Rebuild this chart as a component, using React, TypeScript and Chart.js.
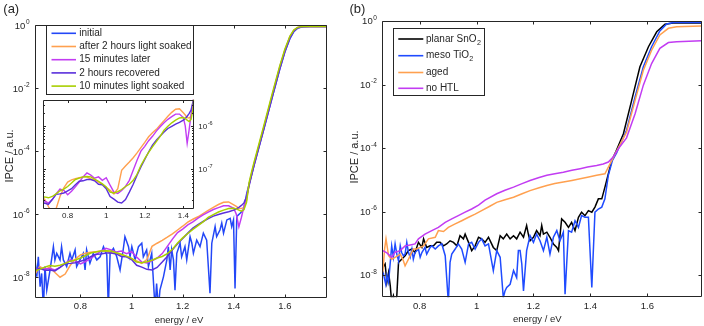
import React, { useEffect, useRef } from 'react';
import { Chart, registerables } from 'chart.js';

Chart.register(...registerables);

const FONT = '"Liberation Sans", Arial, Helvetica, sans-serif';
const INK = '#262626';

// ---------------- Panel (a) data (values stored as log10 of IPCE) ----------------
const xTickValuesA = [0.8, 1.0, 1.2, 1.4, 1.6];
const xTickLabelsA = ['0.8', '1', '1.2', '1.4', '1.6'];
const yTickExpsMain = [0, -2, -4, -6, -8];
const xTickValuesInset = [0.8, 1.0, 1.2, 1.4];
const xTickLabelsInset = ['0.8', '1', '1.2', '1.4'];
const yTickExpsInset = [-6, -7];

const legendA = ['initial', 'after 2 hours light soaked', '15 minutes later', '2 hours recovered', '10 minutes light soaked'];

const energyA = [
  0.62, 0.64, 0.66, 0.68, 0.70, 0.72, 0.74, 0.76, 0.78, 0.80,
  0.82, 0.84, 0.86, 0.88, 0.90, 0.92, 0.94, 0.96, 0.98, 1.00,
  1.02, 1.04, 1.06, 1.08, 1.10, 1.12, 1.14, 1.16, 1.18, 1.20,
  1.22, 1.24, 1.26, 1.28, 1.30, 1.32, 1.34, 1.36, 1.38, 1.40,
  1.41, 1.42, 1.43, 1.44, 1.45,
  1.46, 1.47, 1.48, 1.49, 1.52, 1.55, 1.58, 1.60, 1.62, 1.635, 1.65, 1.67, 1.70, 1.765,
];

const afterSoakLog = [
  -7.93, -7.66, -7.75, -7.68, -7.85, -8.00, -7.90, -7.62, -7.42, -7.29,
  -7.24, -7.21, -7.19, -7.17, -7.17, -7.22, -7.24, -7.29, -7.34, -7.41,
  -7.48, -7.56, -7.44, -7.02, -6.92, -6.83, -6.73, -6.62, -6.50, -6.38,
  -6.25, -6.16, -6.08, -5.98, -5.88, -5.78, -5.69, -5.62, -5.61, -5.70,
  -5.75, -5.81, -5.82, -5.78, -5.56,
  -5.05, -4.70, -4.38, -4.08, -3.17, -2.24, -1.33, -0.79, -0.36, -0.16, -0.07, -0.04, -0.035, -0.035,
];

const later15Log = [
  -7.75, -7.72, -7.74, -7.72, -7.77, -7.69, -7.56, -7.45, -7.48, -7.58,
  -7.50, -7.40, -7.29, -7.17, -7.08, -7.13, -7.20, -7.17, -7.25, -7.19,
  -7.36, -7.52, -7.55, -7.48, -7.39, -7.25, -7.02, -6.79, -6.58, -6.47,
  -6.34, -6.24, -6.12, -6.02, -5.93, -5.85, -5.79, -5.73, -5.73, -5.81,
  -6.00, -6.40, -6.10, -5.75, -5.45,
  -5.05, -4.72, -4.40, -4.10, -3.18, -2.25, -1.34, -0.80, -0.37, -0.17, -0.075, -0.04, -0.035, -0.035,
];

const recoveredLog = [
  -7.78, -7.72, -7.78, -7.77, -7.80, -7.69, -7.57, -7.56, -7.54, -7.49,
  -7.44, -7.35, -7.27, -7.26, -7.23, -7.23, -7.26, -7.34, -7.35, -7.44,
  -7.62, -7.68, -7.75, -7.77, -7.69, -7.52, -7.34, -7.13, -6.94, -6.77,
  -6.60, -6.44, -6.33, -6.23, -6.14, -6.06, -6.01, -5.96, -5.92, -5.87,
  -5.83, -5.78, -5.72, -5.64, -5.45,
  -5.10, -4.76, -4.44, -4.14, -3.23, -2.30, -1.39, -0.84, -0.40, -0.19, -0.085, -0.045, -0.035, -0.035,
];

const soak10Log = [
  -7.80, -7.75, -7.68, -7.63, -7.65, -7.62, -7.56, -7.49, -7.45, -7.39,
  -7.31, -7.23, -7.20, -7.17, -7.16, -7.17, -7.22, -7.27, -7.33, -7.40,
  -7.52, -7.54, -7.51, -7.46, -7.39, -7.34, -7.25, -7.11, -6.91, -6.75,
  -6.61, -6.48, -6.36, -6.24, -6.10, -6.01, -5.93, -5.87, -5.82, -5.81,
  -5.83, -5.87, -5.90, -5.85, -5.62,
  -5.00, -4.65, -4.33, -4.03, -3.12, -2.19, -1.29, -0.76, -0.34, -0.15, -0.065, -0.04, -0.035, -0.035,
];

const initialE = [
  0.622, 0.629, 0.635, 0.642, 0.648, 0.655, 0.661, 0.668, 0.681, 0.694,
  0.700, 0.707, 0.720, 0.726, 0.733, 0.746, 0.759, 0.766, 0.779, 0.785,
  0.798, 0.811, 0.818, 0.824, 0.837, 0.850, 0.864, 0.877, 0.890, 0.903,
  0.909, 0.916, 0.929, 0.942, 0.955, 0.968, 0.974, 0.988, 0.994, 1.001,
  1.014, 1.027, 1.040, 1.046, 1.059, 1.066, 1.079, 1.092, 1.098, 1.105,
  1.111, 1.125, 1.138, 1.144, 1.151, 1.157, 1.164, 1.170, 1.177, 1.190,
  1.196, 1.209, 1.216, 1.229, 1.236, 1.242, 1.255, 1.268, 1.281, 1.294,
  1.307, 1.314, 1.327, 1.333, 1.346, 1.353, 1.360, 1.373, 1.386, 1.392,
  1.399, 1.405, 1.412, 1.425, 1.438, 1.451, 1.46, 1.47, 1.48, 1.49,
  1.52, 1.55, 1.58, 1.60, 1.62, 1.635, 1.65, 1.67, 1.70, 1.765,
];
const initialLog = [
  -7.45, -7.98, -7.35, -8.30, -7.88, -9.0, -7.66, -8.41, -7.77, -7.03,
  -7.45, -7.24, -7.45, -7.03, -7.45, -7.66, -7.24, -7.45, -7.13, -7.66,
  -7.45, -7.24, -7.77, -7.13, -7.56, -7.24, -7.45, -7.35, -7.03, -7.29,
  -9.0, -7.24, -7.08, -7.35, -7.77, -7.08, -6.71, -7.03, -7.35, -7.03,
  -7.45, -7.03, -6.92, -7.35, -7.13, -7.66, -7.24, -9.0, -8.20, -9.0,
  -8.41, -7.98, -7.45, -7.03, -7.77, -7.13, -7.45, -8.41, -7.24, -6.92,
  -7.35, -7.03, -7.45, -6.71, -6.92, -7.24, -6.82, -7.03, -6.60, -6.82,
  -8.51, -6.92, -6.39, -6.71, -6.50, -6.28, -6.60, -6.18, -6.13, -6.39,
  -6.18, -8.36, -6.07, -5.97, -5.86, -5.33, -5.05, -4.75, -4.42, -4.12,
  -3.22, -2.30, -1.40, -0.85, -0.42, -0.20, -0.09, -0.045, -0.035, -0.035,
];

// ---------------- Panel (b) data (log10 of IPCE) ----------------
const xTickValuesB = [0.8, 1.0, 1.2, 1.4, 1.6];
const xTickLabelsB = ['0.8', '1', '1.2', '1.4', '1.6'];

const planarE = [
  0.671, 0.679, 0.685, 0.691, 0.697, 0.702, 0.708, 0.714, 0.720, 0.726,
  0.737, 0.749, 0.761, 0.773, 0.784, 0.796, 0.808, 0.814, 0.825, 0.837,
  0.849, 0.860, 0.872, 0.884, 0.895, 0.907, 0.919, 0.931, 0.942, 0.954,
  0.960, 0.972, 0.983, 0.995, 1.007, 1.018, 1.030, 1.042, 1.059, 1.071,
  1.083, 1.094, 1.106, 1.118, 1.130, 1.141, 1.153, 1.165, 1.176, 1.182,
  1.188, 1.200, 1.211, 1.223, 1.229, 1.235, 1.247, 1.258, 1.270, 1.282,
  1.288, 1.299, 1.311, 1.323, 1.334, 1.346, 1.358, 1.369, 1.381, 1.393,
  1.405, 1.416, 1.428, 1.440, 1.452, 1.462, 1.475, 1.490, 1.516, 1.545,
  1.574, 1.604, 1.633, 1.662, 1.691, 1.740, 1.790,
];
const planarLog = [
  -7.76, -7.65, -8.23, -7.92, -8.34, -8.87, -8.65, -8.87, -8.65, -7.60,
  -7.50, -7.39, -7.23, -7.18, -7.29, -6.97, -7.13, -6.86, -7.13, -7.08,
  -7.08, -6.97, -6.97, -7.08, -7.02, -6.92, -6.97, -7.08, -6.76, -6.86,
  -6.71, -6.97, -7.23, -7.08, -6.81, -6.86, -6.97, -6.81, -7.13, -7.23,
  -6.76, -6.86, -6.71, -6.86, -6.76, -6.86, -6.65, -6.81, -6.44, -6.71,
  -6.92, -6.81, -6.60, -6.76, -6.44, -6.71, -6.65, -6.81, -7.02, -7.13,
  -7.23, -6.23, -6.34, -6.50, -6.34, -6.60, -6.18, -6.02, -6.13, -5.97,
  -6.02, -5.86, -5.60, -5.60, -5.20, -4.85, -4.39, -4.10, -3.55, -2.50,
  -1.44, -0.81, -0.34, -0.10, -0.06, -0.06, -0.06,
];

const mesoE = [
  0.671, 0.677, 0.681, 0.685, 0.691, 0.697, 0.702, 0.708, 0.714, 0.720,
  0.726, 0.732, 0.737, 0.743, 0.749, 0.755, 0.761, 0.767, 0.773, 0.778,
  0.784, 0.796, 0.802, 0.808, 0.819, 0.825, 0.837, 0.843, 0.855, 0.866,
  0.878, 0.890, 0.901, 0.907, 0.913, 0.925, 0.936, 0.948, 0.960, 0.972,
  0.983, 0.995, 1.007, 1.018, 1.030, 1.042, 1.059, 1.071, 1.083, 1.094,
  1.100, 1.106, 1.118, 1.130, 1.141, 1.147, 1.153, 1.159, 1.165, 1.176,
  1.188, 1.200, 1.211, 1.223, 1.235, 1.247, 1.258, 1.270, 1.282, 1.293,
  1.305, 1.311, 1.323, 1.334, 1.346, 1.358, 1.369, 1.381, 1.393, 1.405,
  1.416, 1.428, 1.440, 1.451, 1.463, 1.477, 1.492, 1.527, 1.557, 1.586,
  1.615, 1.644, 1.668, 1.697, 1.790,
];
const mesoLog = [
  -7.87, -8.13, -8.29, -8.02, -8.23, -7.60, -7.08, -7.44, -7.02, -7.34,
  -7.55, -7.08, -7.29, -7.39, -7.34, -6.97, -7.29, -7.44, -7.18, -7.50,
  -7.29, -7.18, -7.44, -7.29, -7.13, -7.34, -7.13, -7.08, -7.18, -7.08,
  -7.02, -7.39, -8.87, -7.60, -7.34, -7.18, -7.02, -7.18, -7.60, -7.02,
  -6.97, -7.18, -6.97, -6.86, -7.08, -7.02, -7.86, -7.23, -7.44, -8.71,
  -8.50, -8.39, -8.29, -7.86, -8.08, -7.23, -7.23, -7.65, -8.50, -7.23,
  -6.76, -6.97, -6.71, -6.92, -7.23, -6.81, -7.34, -6.81, -6.60, -6.92,
  -6.65, -8.60, -6.60, -6.65, -6.29, -6.50, -6.13, -6.18, -6.18, -8.39,
  -6.02, -5.92, -5.86, -5.60, -4.86, -4.40, -4.15, -3.44, -2.39, -1.44,
  -0.81, -0.31, -0.095, -0.04, -0.045,
];

const agedE = [
  0.671, 0.677, 0.682, 0.691, 0.702, 0.714, 0.732, 0.743, 0.749, 0.761,
  0.778, 0.790, 0.802, 0.814, 0.831, 0.855, 0.866, 0.884, 0.901, 0.925,
  0.948, 0.972, 0.995, 1.018, 1.045, 1.071, 1.100, 1.130, 1.160, 1.188,
  1.220, 1.247, 1.275, 1.305, 1.335, 1.364, 1.390, 1.422, 1.451, 1.469,
  1.486, 1.527, 1.557, 1.586, 1.615, 1.644, 1.674, 1.703, 1.790,
];
const agedLog = [
  -7.92, -7.18, -6.86, -7.39, -7.50, -7.44, -7.34, -7.55, -7.71, -7.50,
  -7.18, -7.18, -7.13, -7.08, -6.86, -6.81, -6.60, -6.63, -6.50, -6.39,
  -6.29, -6.18, -6.08, -5.97, -5.84, -5.71, -5.63, -5.55, -5.44, -5.34,
  -5.25, -5.18, -5.12, -5.07, -5.02, -4.97, -4.92, -4.86, -4.81, -4.50,
  -4.20, -3.50, -2.50, -1.55, -0.92, -0.44, -0.23, -0.18, -0.16,
];

const noHtlE = [
  0.671, 0.685, 0.702, 0.714, 0.732, 0.749, 0.767, 0.784, 0.796, 0.819,
  0.843, 0.866, 0.890, 0.913, 0.936, 0.960, 0.983, 1.007, 1.030, 1.071,
  1.100, 1.130, 1.160, 1.188, 1.220, 1.247, 1.275, 1.305, 1.335, 1.364,
  1.390, 1.422, 1.445, 1.463, 1.480, 1.500, 1.527, 1.557, 1.586, 1.615,
  1.644, 1.674, 1.703, 1.790,
];
const noHtlLog = [
  -7.23, -7.30, -7.44, -7.28, -7.23, -7.08, -7.05, -7.02, -6.86, -6.71,
  -6.60, -6.50, -6.34, -6.23, -6.13, -6.02, -5.92, -5.80, -5.64, -5.44,
  -5.33, -5.23, -5.12, -5.02, -4.93, -4.86, -4.81, -4.76, -4.70, -4.65,
  -4.60, -4.55, -4.50, -4.44, -4.28, -4.00, -3.68, -2.92, -2.02, -1.34,
  -0.86, -0.68, -0.65, -0.62,
];

// ---------------- colours ----------------
const C_INITIAL = '#2347f7';
const C_ORANGE = '#ffa04f';
const C_MAGENTA = '#c23cf2';
const C_VIOLET = '#5a2fdc';
const C_GREEN = '#a8cf00';
const C_BLACK = '#000000';
const C_MESO = '#1f4bff';

type Series = { label: string; color: string; E: number[]; L: number[] };

const seriesA: Series[] = [
  { label: legendA[0], color: C_INITIAL, E: initialE, L: initialLog },
  { label: legendA[1], color: C_ORANGE, E: energyA, L: afterSoakLog },
  { label: legendA[2], color: C_MAGENTA, E: energyA, L: later15Log },
  { label: legendA[3], color: C_VIOLET, E: energyA, L: recoveredLog },
  { label: legendA[4], color: C_GREEN, E: energyA, L: soak10Log },
];
const seriesInset: Series[] = seriesA.slice(1);

const seriesB: Series[] = [
  { label: 'planar SnO|2', color: C_BLACK, E: planarE, L: planarLog },
  { label: 'meso TiO|2', color: C_MESO, E: mesoE, L: mesoLog },
  { label: 'aged', color: C_ORANGE, E: agedE, L: agedLog },
  { label: 'no HTL', color: C_MAGENTA, E: noHtlE, L: noHtlLog },
];

function toPoints(E: number[], L: number[]) {
  return E.map((x, i) => ({ x, y: Math.pow(10, L[i]) }));
}

function makeDatasets(list: Series[], width: number) {
  return list.map((s, i) => ({
    label: s.label,
    data: toPoints(s.E, s.L),
    borderColor: s.color,
    backgroundColor: s.color,
    borderWidth: width,
    pointRadius: 0,
    tension: 0,
    fill: false,
    order: -i,
  }));
}

function supLabel(ctx: CanvasRenderingContext2D, x: number, y: number, base: string, sup: string,
  fs: number, ss: number, align: 'left' | 'right') {
  ctx.font = `${fs}px ${FONT}`;
  const wb = ctx.measureText(base).width;
  ctx.font = `${ss}px ${FONT}`;
  const ws = ctx.measureText(sup).width;
  const x0 = align === 'right' ? x - wb - ws - 0.5 : x;
  ctx.textAlign = 'left';
  ctx.textBaseline = 'alphabetic';
  ctx.font = `${fs}px ${FONT}`;
  ctx.fillText(base, x0, y + fs * 0.36);
  ctx.font = `${ss}px ${FONT}`;
  ctx.fillText(sup, x0 + wb + 0.5, y - fs * 0.14);
}

function subLabel(ctx: CanvasRenderingContext2D, x: number, y: number, text: string, fs: number) {
  const [main, sub] = text.split('|');
  ctx.textAlign = 'left';
  ctx.textBaseline = 'middle';
  ctx.font = `${fs}px ${FONT}`;
  ctx.fillText(main, x, y);
  if (sub) {
    const w = ctx.measureText(main).width;
    ctx.font = `${fs * 0.72}px ${FONT}`;
    ctx.fillText(sub, x + w + 0.3, y + fs * 0.38);
  }
}

interface AxesCfg {
  xTicks: number[];
  xLabels: string[];
  yExps: number[];
  ySide: 'left' | 'right';
  tickLen: number;
  minor: boolean;
  fs: number;
  ss: number;
  xLabOff: number;
  yLabGap: number;
  fillWhite: boolean;
  extra?: (chart: any) => void;
}

function axesPlugin(cfg: AxesCfg) {
  return {
    id: 'matlabAxes',
    beforeDatasetsDraw(chart: any) {
      if (!cfg.fillWhite) return;
      const { ctx, chartArea: a } = chart;
      ctx.save();
      ctx.fillStyle = '#ffffff';
      ctx.fillRect(a.left, a.top, a.right - a.left, a.bottom - a.top);
      ctx.restore();
    },
    afterDatasetsDraw(chart: any) {
      const { ctx, chartArea: a, scales } = chart;
      const xs = scales.x;
      const ys = scales.y;
      const L = Math.round(a.left) + 0.5;
      const R = Math.round(a.right) - 0.5;
      const T = Math.round(a.top) + 0.5;
      const B = Math.round(a.bottom) - 0.5;
      ctx.save();
      ctx.strokeStyle = INK;
      ctx.lineWidth = 1;
      ctx.beginPath();
      ctx.rect(L, T, R - L, B - T);
      cfg.xTicks.forEach((v) => {
        const px = Math.round(xs.getPixelForValue(v)) + 0.5;
        ctx.moveTo(px, B); ctx.lineTo(px, B - cfg.tickLen);
        ctx.moveTo(px, T); ctx.lineTo(px, T + cfg.tickLen);
      });
      cfg.yExps.forEach((e) => {
        const py = Math.round(ys.getPixelForValue(Math.pow(10, e))) + 0.5;
        ctx.moveTo(L, py); ctx.lineTo(L + cfg.tickLen, py);
        ctx.moveTo(R, py); ctx.lineTo(R - cfg.tickLen, py);
      });
      if (cfg.minor) {
        const lo = Math.floor(Math.log10(ys.min));
        const hi = Math.ceil(Math.log10(ys.max));
        for (let k = lo; k <= hi; k++) {
          for (let m = 2; m <= 9; m++) {
            const v = m * Math.pow(10, k);
            if (v <= ys.min || v >= ys.max) continue;
            const py = Math.round(ys.getPixelForValue(v)) + 0.5;
            ctx.moveTo(L, py); ctx.lineTo(L + cfg.tickLen * 0.6, py);
            ctx.moveTo(R, py); ctx.lineTo(R - cfg.tickLen * 0.6, py);
          }
        }
      }
      ctx.stroke();

      ctx.fillStyle = INK;
      ctx.font = `${cfg.fs}px ${FONT}`;
      ctx.textAlign = 'center';
      ctx.textBaseline = 'middle';
      cfg.xTicks.forEach((v, i) => {
        ctx.fillText(cfg.xLabels[i], xs.getPixelForValue(v), a.bottom + cfg.xLabOff);
      });
      cfg.yExps.forEach((e) => {
        const py = ys.getPixelForValue(Math.pow(10, e));
        if (cfg.ySide === 'left') {
          supLabel(ctx, a.left - cfg.yLabGap, py, '10', String(e), cfg.fs, cfg.ss, 'right');
        } else {
          supLabel(ctx, a.right + cfg.yLabGap, py, '10', String(e), cfg.fs, cfg.ss, 'left');
        }
      });
      if (cfg.extra) cfg.extra(chart);
      ctx.restore();
    },
  };
}

function drawLegend(ctx: CanvasRenderingContext2D, box: { x: number; y: number; w: number; h: number },
  items: Series[], rows: number[], lineX0: number, lineX1: number, textX: number, fs: number) {
  ctx.save();
  ctx.fillStyle = '#ffffff';
  ctx.fillRect(box.x, box.y, box.w, box.h);
  ctx.strokeStyle = INK;
  ctx.lineWidth = 1;
  ctx.strokeRect(Math.round(box.x) + 0.5, Math.round(box.y) + 0.5, Math.round(box.w), Math.round(box.h));
  items.forEach((s, i) => {
    const y = rows[i];
    ctx.strokeStyle = s.color;
    ctx.lineWidth = 1.6;
    ctx.beginPath();
    ctx.moveTo(lineX0, y);
    ctx.lineTo(lineX1, y);
    ctx.stroke();
    ctx.fillStyle = INK;
    subLabel(ctx, textX, y, s.label, fs);
  });
  ctx.restore();
}

function vTitle(ctx: CanvasRenderingContext2D, text: string, cx: number, cy: number, fs: number) {
  ctx.save();
  ctx.translate(cx, cy);
  ctx.rotate(-Math.PI / 2);
  ctx.fillStyle = INK;
  ctx.font = `${fs}px ${FONT}`;
  ctx.textAlign = 'center';
  ctx.textBaseline = 'middle';
  ctx.fillText(text, 0, 0);
  ctx.restore();
}

function hText(ctx: CanvasRenderingContext2D, text: string, x: number, y: number, fs: number, align: CanvasTextAlign) {
  ctx.fillStyle = INK;
  ctx.font = `${fs}px ${FONT}`;
  ctx.textAlign = align;
  ctx.textBaseline = 'middle';
  ctx.fillText(text, x, y);
}

function baseConfig(datasets: any[], padding: any, xmin: number, xmax: number, ymin: number, ymax: number, plugin: any) {
  return {
    type: 'line' as const,
    data: { datasets },
    options: {
      responsive: false,
      maintainAspectRatio: false,
      animation: false as const,
      devicePixelRatio: 1,
      events: [] as any[],
      layout: { padding },
      parsing: false as const,
      scales: {
        x: { type: 'linear' as const, display: false, min: xmin, max: xmax, bounds: 'data' as const },
        y: { type: 'logarithmic' as const, display: false, min: ymin, max: ymax, bounds: 'data' as const },
      },
      plugins: { legend: { display: false }, tooltip: { enabled: false } },
    },
    plugins: [plugin],
  };
}

function ChartCanvas({ left, top, width, height, make }: { left: number; top: number; width: number; height: number; make: () => any }) {
  const ref = useRef<HTMLCanvasElement | null>(null);
  useEffect(() => {
    if (!ref.current) return;
    const chart = new Chart(ref.current, make());
    return () => chart.destroy();
  }, []);
  return (
    <canvas
      ref={ref}
      width={width}
      height={height}
      style={{ position: 'absolute', left, top, width, height }}
    />
  );
}

function makePanelA() {
  const plugin = axesPlugin({
    xTicks: xTickValuesA,
    xLabels: xTickLabelsA,
    yExps: yTickExpsMain,
    ySide: 'left',
    tickLen: 3,
    minor: false,
    fs: 9.5,
    ss: 6.5,
    xLabOff: 9,
    yLabGap: 5.5,
    fillWhite: false,
    extra: (chart: any) => {
      const ctx = chart.ctx as CanvasRenderingContext2D;
      drawLegend(ctx, { x: 46, y: 25, w: 147, h: 69 }, seriesA, [33.3, 46.5, 59.7, 72.9, 86.1], 51.5, 76, 79.3, 10);
      hText(ctx, 'energy / eV', 179, 320, 9.5, 'center');
      vTitle(ctx, 'IPCE / a.u.', 9.7, 156, 11);
      ctx.font = `13px ${FONT}`;
      ctx.textAlign = 'left';
      ctx.textBaseline = 'alphabetic';
      ctx.fillText('(a)', 3.3, 13.3);
    },
  });
  return baseConfig(makeDatasets(seriesA, 1.5), { left: 35, right: 23, top: 25.3, bottom: 28.3 },
    0.622, 1.765, Math.pow(10, -8.65), 1, plugin);
}

function makeInset() {
  const plugin = axesPlugin({
    xTicks: xTickValuesInset,
    xLabels: xTickLabelsInset,
    yExps: yTickExpsInset,
    ySide: 'right',
    tickLen: 2.5,
    minor: true,
    fs: 8,
    ss: 5.5,
    xLabOff: 6.8,
    yLabGap: 4,
    fillWhite: true,
  });
  return baseConfig(makeDatasets(seriesInset, 1.4), { left: 3, right: 25.7, top: 4.7, bottom: 16.3 },
    0.672, 1.457, Math.pow(10, -7.9), Math.pow(10, -5.4), plugin);
}

function makePanelB() {
  const plugin = axesPlugin({
    xTicks: xTickValuesB,
    xLabels: xTickLabelsB,
    yExps: yTickExpsMain,
    ySide: 'left',
    tickLen: 3,
    minor: false,
    fs: 9.5,
    ss: 6.5,
    xLabOff: 9,
    yLabGap: 5.5,
    fillWhite: false,
    extra: (chart: any) => {
      const ctx = chart.ctx as CanvasRenderingContext2D;
      drawLegend(ctx, { x: 49.3, y: 27.7, w: 90.7, h: 66.6 }, seriesB, [39, 55.7, 72.5, 88.3], 54.3, 79.3, 82, 10);
      hText(ctx, 'energy / eV', 193.3, 319.5, 9.5, 'center');
      vTitle(ctx, 'IPCE / a.u.', 11, 157, 11);
      ctx.font = `13px ${FONT}`;
      ctx.textAlign = 'left';
      ctx.textBaseline = 'alphabetic';
      ctx.fillText('(b)', 5.5, 13.3);
    },
  });
  return baseConfig(makeDatasets(seriesB, 1.5), { left: 38.3, right: 2.3, top: 21, bottom: 28.7 },
    0.669, 1.791, Math.pow(10, -8.7), 1, plugin);
}

export default function App() {
  return (
    <div
      style={{
        position: 'fixed',
        left: 0,
        top: 0,
        width: 704,
        height: 326,
        background: '#ffffff',
        overflow: 'hidden',
        fontFamily: FONT,
      }}
    >
      <ChartCanvas left={0} top={0} width={350} height={326} make={makePanelA} />
      <ChartCanvas left={344} top={0} width={360} height={326} make={makePanelB} />
      <ChartCanvas left={40} top={95} width={180} height={130} make={makeInset} />
    </div>
  );
}
